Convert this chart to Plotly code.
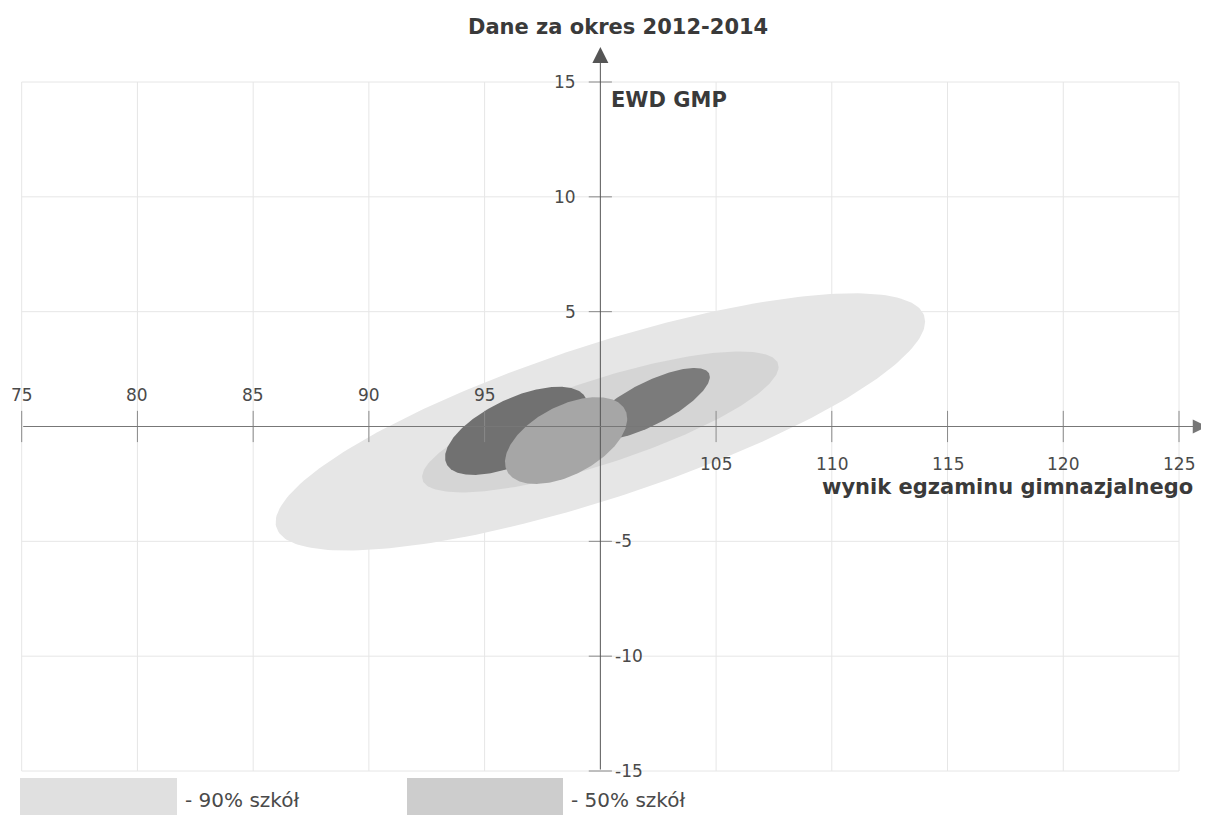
import numpy as np
import plotly.graph_objects as go

# ---- data ----
x_ticks = [75, 80, 85, 90, 95, 100, 105, 110, 115, 120, 125]
y_ticks = [-15, -10, -5, 0, 5, 10, 15]
x_origin = 100
y_origin = 0

# ellipses: 90% of schools, 50% of schools, and three school ellipses
ell_names = ["90% szkół", "50% szkół", "szkoła 1", "szkoła 2", "szkoła 3"]
ell_cx = [100.0, 100.0, 96.36, 102.10, 98.52]
ell_cy = [0.2, 0.2, -0.19, 0.98, -0.61]
ell_sx = [14.03, 7.70, 3.07, 2.63, 2.64]
ell_sy = [5.60, 3.07, 1.92, 1.57, 1.89]
ell_rho = [0.78, 0.78, 0.60, 0.75, 0.50]
ell_colors = ["#e6e6e6", "#d5d5d5", "#717171", "#7b7b7b", "#a6a6a6"]

legend_labels = ["- 90% szkół", "- 50% szkół"]
legend_colors = ["#e0e0e0", "#cdcdcd"]

title_text = "Dane za okres 2012-2014"
y_title = "EWD GMP"
x_title = "wynik egzaminu gimnazjalnego"

TXT = "#4a4a4a"
BOLD = "#3a3a3a"

# page body has an 8px margin, so the figure is 8px smaller and offset
OFF = 8
W, H = 1209 - OFF, 817 - OFF

fig = go.Figure()

# grid lines
gx, gy = [], []
for v in x_ticks:
    if v == x_origin:
        continue
    gx += [v, v, None]
    gy += [y_ticks[0], y_ticks[-1], None]
for v in y_ticks:
    if v == y_origin:
        continue
    gx += [x_ticks[0], x_ticks[-1], None]
    gy += [v, v, None]
fig.add_trace(go.Scatter(x=gx, y=gy, mode="lines", line=dict(color="#e6e6e6", width=1),
                         hoverinfo="skip", showlegend=False))

# ellipses
t = np.linspace(0, 2 * np.pi, 241)
for name, cx, cy, sx, sy, r, col in zip(ell_names, ell_cx, ell_cy, ell_sx, ell_sy, ell_rho, ell_colors):
    ex = cx + sx * np.cos(t)
    ey = cy + sy * (r * np.cos(t) + np.sqrt(1 - r * r) * np.sin(t))
    fig.add_trace(go.Scatter(x=ex, y=ey, mode="lines", fill="toself", fillcolor=col,
                             line=dict(width=0, color=col), name=name, showlegend=False))

# tick marks
tx, ty = [], []
for v in x_ticks:
    if v == x_origin:
        continue
    tx += [v, v, None]
    ty += [y_origin - 0.68, y_origin + 0.68, None]
for v in y_ticks:
    if v == y_origin:
        continue
    tx += [x_origin - 0.5, x_origin + 0.5, None]
    ty += [v, v, None]
fig.add_trace(go.Scatter(x=tx, y=ty, mode="lines", line=dict(color="#8a8a8a", width=1),
                         hoverinfo="skip", showlegend=False))

ann = []
# axes with arrows
ann.append(dict(x=x_origin, y=16.52, ax=x_origin, ay=y_ticks[0], xref="x", yref="y",
                axref="x", ayref="y", text="", showarrow=True, arrowhead=2, arrowsize=3.2,
                arrowwidth=1, arrowcolor="#555555"))
ann.append(dict(x=126.2, y=y_origin, ax=x_ticks[0], ay=y_origin, xref="x", yref="y",
                axref="x", ayref="y", text="", showarrow=True, arrowhead=2, arrowsize=2.8,
                arrowwidth=1, arrowcolor="#777777"))

# tick labels
for v in x_ticks:
    if v == x_origin:
        continue
    ann.append(dict(x=v, y=1.35 if v < x_origin else -1.62, xref="x", yref="y",
                    text=str(v), showarrow=False, xanchor="center", yanchor="middle",
                    font=dict(family="DejaVu Sans", size=17, color=TXT)))
for v in y_ticks:
    if v == y_origin:
        continue
    if v > 0:
        ann.append(dict(x=99.05, y=v, xref="x", yref="y", text=str(v), showarrow=False,
                        xanchor="right", yanchor="middle",
                        font=dict(family="DejaVu Sans", size=17, color=TXT)))
    else:
        ann.append(dict(x=100.55, y=v, xref="x", yref="y", text=str(v), showarrow=False,
                        xanchor="left", yanchor="middle",
                        font=dict(family="DejaVu Sans", size=17, color=TXT)))

# titles
ann.append(dict(x=100.78, y=17.39, xref="x", yref="y", text="<b>%s</b>" % title_text,
                showarrow=False, xanchor="center", yanchor="middle",
                font=dict(family="DejaVu Sans", size=21, color=BOLD)))
ann.append(dict(x=100.38, y=14.21, xref="x", yref="y", text="<b>%s</b>" % y_title,
                showarrow=False, xanchor="left", yanchor="middle",
                font=dict(family="DejaVu Sans", size=21, color=BOLD)))
ann.append(dict(x=125.69, y=-2.62, xref="x", yref="y", text="<b>%s</b>" % x_title,
                showarrow=False, xanchor="right", yanchor="middle",
                font=dict(family="DejaVu Sans", size=21, color=BOLD)))

# legend (swatches + labels), positions given in reference pixels
sw_x = [(20, 177), (407, 563)]
shapes = []
for (x0, x1), col, lab in zip(sw_x, legend_colors, legend_labels):
    shapes.append(dict(type="rect", xref="paper", yref="paper",
                       x0=(x0 - OFF) / W, x1=(x1 - OFF) / W,
                       y0=1 - (815 - OFF) / H, y1=1 - (778 - OFF) / H,
                       fillcolor=col, line=dict(width=0), layer="above"))
    ann.append(dict(x=(x1 + 6 - OFF) / W, y=1 - (800 - OFF) / H, xref="paper", yref="paper",
                    text=lab, showarrow=False, xanchor="left", yanchor="middle",
                    font=dict(family="DejaVu Sans", size=20, color=TXT)))

# axis ranges so that 75 -> x px 21.7, 125 -> 1179, 15 -> y px 82, -15 -> 771 (reference)
px_x = (1179 - 21.7) / 50.0
px_y = (771 - 82) / 30.0
x_lo = 75 - (21.7 - OFF) / px_x
x_hi = 125 + (W - (1179 - OFF)) / px_x
y_hi = 15 + (82 - OFF) / px_y
y_lo = -15 - (H - (771 - OFF)) / px_y

fig.update_layout(
    width=W, height=H,
    margin=dict(l=0, r=0, t=0, b=0),
    plot_bgcolor="white", paper_bgcolor="white",
    xaxis=dict(range=[x_lo, x_hi], visible=False, fixedrange=True),
    yaxis=dict(range=[y_lo, y_hi], visible=False, fixedrange=True),
    annotations=ann, shapes=shapes, showlegend=False,
)

fig.write_html("out.html")
